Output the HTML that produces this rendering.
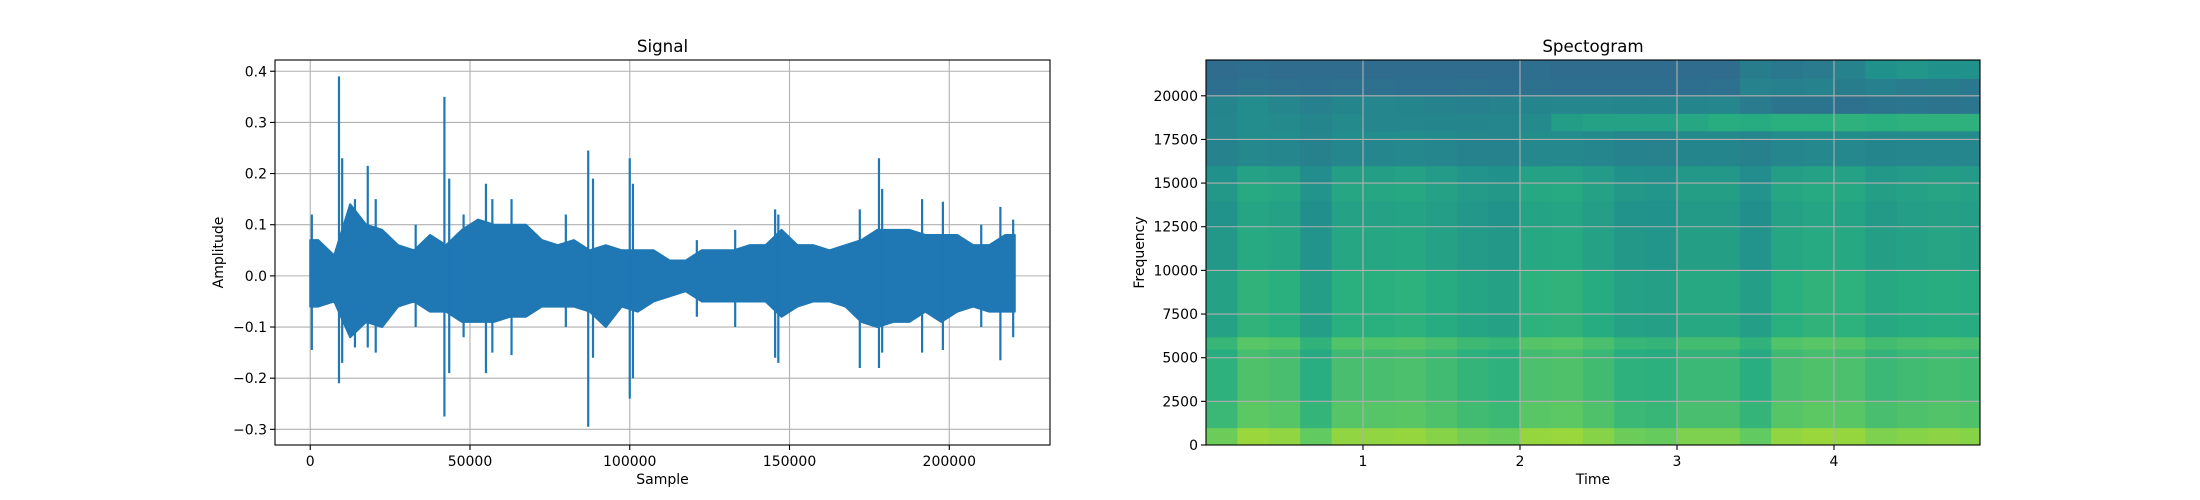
<!DOCTYPE html>
<html><head><meta charset="utf-8">
<style>
html,body{margin:0;padding:0;background:#fff;}
svg{display:block;font-family:"DejaVu Sans","Liberation Sans",sans-serif;}
</style></head>
<body>
<svg id="fig" width="2200" height="500" viewBox="0 0 2200 500" xmlns="http://www.w3.org/2000/svg"></svg>
<script>
// ---------- Signal data ----------
const sigBinSize = 5000;
const sigUpper = [0.07,0.04,0.14,0.10,0.09,0.06,0.05,0.08,0.06,0.09,0.11,0.10,0.10,0.10,0.07,0.06,0.07,0.05,0.06,0.05,0.05,0.05,0.03,0.03,0.05,0.05,0.05,0.06,0.06,0.09,0.06,0.06,0.05,0.06,0.07,0.09,0.09,0.09,0.08,0.08,0.08,0.06,0.06,0.08];
const sigLower = [-0.06,-0.05,-0.12,-0.09,-0.10,-0.06,-0.05,-0.07,-0.07,-0.09,-0.09,-0.09,-0.08,-0.08,-0.06,-0.06,-0.06,-0.07,-0.10,-0.06,-0.07,-0.05,-0.04,-0.03,-0.05,-0.05,-0.05,-0.05,-0.05,-0.08,-0.06,-0.05,-0.05,-0.06,-0.09,-0.10,-0.09,-0.09,-0.07,-0.09,-0.07,-0.06,-0.07,-0.07];
const spikeSamples = [500,9000,10000,14000,18000,20500,33000,42000,43500,48000,55000,57000,63000,80000,87000,88500,100000,101000,121000,133000,145500,146500,172000,178000,179000,191500,198000,210000,216000,220000];
const spikeMax = [0.12,0.39,0.23,0.15,0.215,0.15,0.10,0.35,0.19,0.12,0.18,0.15,0.15,0.12,0.245,0.19,0.23,0.18,0.07,0.09,0.13,0.12,0.13,0.23,0.17,0.15,0.145,0.10,0.135,0.11];
const spikeMin = [-0.145,-0.21,-0.17,-0.14,-0.14,-0.15,-0.10,-0.275,-0.19,-0.12,-0.19,-0.15,-0.155,-0.10,-0.295,-0.16,-0.24,-0.20,-0.08,-0.10,-0.16,-0.17,-0.18,-0.18,-0.15,-0.15,-0.145,-0.10,-0.165,-0.12];
const sigXTicks = [0,50000,100000,150000,200000];
const sigYTicks = [-0.3,-0.2,-0.1,0.0,0.1,0.2,0.3,0.4];

// ---------- Spectrogram data ----------
const specColWidth = 0.2;
const timeLoudness = [0.4,0.9,0.8,0.3,0.8,0.8,0.85,0.7,0.5,0.4,0.85,0.9,0.7,0.4,0.35,0.6,0.6,0.3,0.8,0.9,0.85,0.6,0.7,0.75,0.7];
const bandEdges = [0,1000,2500,5000,5500,6200,10000,12500,14000,15000,16000,17500,18000,19000,20000,21000,22050];
const bandLevel = [0.80,0.70,0.67,0.65,0.69,0.60,0.56,0.54,0.56,0.53,0.45,0.47,null,null,null,null];
const band18k = [0.46,0.48,0.47,0.45,0.47,0.46,0.46,0.45,0.45,0.46,0.47,0.55,0.57,0.57,0.57,0.59,0.62,0.61,0.63,0.63,0.64,0.63,0.64,0.64,0.64];
const band19k = [0.45,0.48,0.46,0.43,0.45,0.46,0.45,0.44,0.43,0.44,0.45,0.46,0.46,0.45,0.45,0.45,0.46,0.41,0.38,0.38,0.37,0.38,0.39,0.38,0.39];
const band20k = [0.36,0.38,0.37,0.36,0.37,0.37,0.36,0.36,0.37,0.36,0.37,0.36,0.36,0.36,0.36,0.36,0.37,0.44,0.43,0.44,0.42,0.43,0.41,0.42,0.40];
const band21k = [0.35,0.36,0.35,0.35,0.35,0.35,0.35,0.35,0.35,0.35,0.36,0.35,0.35,0.35,0.35,0.35,0.35,0.42,0.40,0.41,0.44,0.50,0.52,0.50,0.50];
const specXTicks = [1,2,3,4];
const specYTicks = [0,2500,5000,7500,10000,12500,15000,17500,20000];

const NS = "http://www.w3.org/2000/svg";
const svg = document.getElementById('fig');
function el(tag, attrs, parent){ const e=document.createElementNS(NS,tag); for(const k in attrs) e.setAttribute(k,attrs[k]); (parent||svg).appendChild(e); return e; }
function txt(s, attrs, parent){ const e=el('text',attrs,parent); e.textContent=s; return e; }
function fmtMinus(v,d){ const s=Math.abs(v).toFixed(d); return (v<0?'\u2212':'')+s; }

const viridis = [[68,1,84],[71,45,123],[59,82,139],[44,114,142],[33,145,140],[40,174,128],[94,201,98],[173,220,48],[253,231,37]];
function cmap(v){ v=Math.max(0,Math.min(1,v)); const p=v*8, i=Math.min(7,Math.floor(p)), f=p-i; const a=viridis[i], b=viridis[i+1];
  return 'rgb('+a.map((c,k)=>Math.round(c+(b[k]-c)*f)).join(',')+')'; }

// ===== Axes 1: Signal =====
const A1 = {l:275, r:1050, t:60, b:445};
const sxMin=-11025, sxMax=231525, syMin=-0.3306, syMax=0.422;
const sx = s => A1.l + (s-sxMin)/(sxMax-sxMin)*(A1.r-A1.l);
const sy = a => A1.b - (a-syMin)/(syMax-syMin)*(A1.b-A1.t);

const g1 = el('g',{});


sigXTicks.forEach(v=>{ const l=el('line',{x1:sx(v),x2:sx(v),y1:A1.t,y2:A1.b,stroke:'#b0b0b0','stroke-width':1.1},g1);
    });
sigYTicks.forEach(v=>{ const l=el('line',{x1:A1.l,x2:A1.r,y1:sy(v),y2:sy(v),stroke:'#b0b0b0','stroke-width':1.1},g1);
    });
// waveform bulk (envelope through bin centres)
const nb = sigUpper.length;
const centre = i => Math.min(220500, i*sigBinSize + sigBinSize/2);
let up=[sx(0)+','+sy(sigUpper[0])], lo=[];
for(let i=0;i<nb;i++) up.push(sx(centre(i))+','+sy(sigUpper[i]));
up.push(sx(220500)+','+sy(sigUpper[nb-1]));
lo.push(sx(220500)+','+sy(sigLower[nb-1]));
for(let i=nb-1;i>=0;i--) lo.push(sx(centre(i))+','+sy(sigLower[i]));
lo.push(sx(0)+','+sy(sigLower[0]));
const wave = el('polygon',{points:up.concat(lo).join(' '),fill:'#1f77b4',stroke:'#1f77b4','stroke-width':2,'stroke-linejoin':'round'},g1);


spikeSamples.forEach((s,i)=>{
  const l=el('line',{x1:sx(s),x2:sx(s),y1:sy(spikeMax[i]),y2:sy(spikeMin[i]),stroke:'#1f77b4','stroke-width':2.2},g1);
  
  
});
const f1=el('rect',{x:A1.l,y:A1.t,width:A1.r-A1.l,height:A1.b-A1.t,fill:'none',stroke:'#000','stroke-width':1.1},g1);
 
sigXTicks.forEach(v=>{ el('line',{x1:sx(v),x2:sx(v),y1:A1.b,y2:A1.b+5,stroke:'#000','stroke-width':1.1},g1);
  const t=txt(String(v),{x:sx(v),y:A1.b+21,'font-size':14,'text-anchor':'middle',fill:'#000'},g1);
    });
sigYTicks.forEach(v=>{ el('line',{x1:A1.l-5,x2:A1.l,y1:sy(v),y2:sy(v),stroke:'#000','stroke-width':1.1},g1);
  const t=txt(fmtMinus(v,1),{x:A1.l-8,y:sy(v)+5,'font-size':14,'text-anchor':'end',fill:'#000'},g1);
    });
let t1=txt('Signal',{x:(A1.l+A1.r)/2,y:52,'font-size':16.7,'text-anchor':'middle'},g1);
 
t1=txt('Sample',{x:(A1.l+A1.r)/2,y:484,'font-size':14,'text-anchor':'middle'},g1);
 
t1=txt('Amplitude',{x:0,y:0,'font-size':14,'text-anchor':'middle',transform:'translate(223,'+((A1.t+A1.b)/2)+') rotate(-90)'},g1);
 

// ===== Axes 2: Spectrogram =====
const A2 = {l:1206, r:1980, t:60, b:445};
const txMin=0, txMax=4.93, fMax=22050;
const tx = t => A2.l + (t-txMin)/(txMax-txMin)*(A2.r-A2.l);
const fy = f => A2.b - f/fMax*(A2.b-A2.t);
const g2 = el('g',{});


const clip = el('clipPath',{id:'specclip'},g2);
el('rect',{x:A2.l,y:A2.t,width:A2.r-A2.l,height:A2.b-A2.t},clip);
const cells = el('g',{'clip-path':'url(#specclip)'},g2);


for(let c=0;c<timeLoudness.length;c++){
  const t0=c*specColWidth, t1c=(c+1)*specColWidth;
  for(let b=0;b<bandEdges.length-1;b++){
    let v;
    if(b===12) v=band18k[c];
    else if(b===13) v=band19k[c];
    else if(b===14) v=band20k[c];
    else if(b===15) v=band21k[c];
    else v=bandLevel[b] + (b<10 ? 0.15 : 0.05)*(timeLoudness[c]-0.6);
    const r=el('rect',{x:tx(t0),y:fy(bandEdges[b+1]),width:tx(t1c)-tx(t0)+0.6,height:fy(bandEdges[b])-fy(bandEdges[b+1])+0.6,fill:cmap(v)},cells);
    
    
  }
}
specXTicks.forEach(v=>{ const l=el('line',{x1:tx(v),x2:tx(v),y1:A2.t,y2:A2.b,stroke:'#b0b0b0','stroke-width':1.1},g2);
    });
specYTicks.forEach(v=>{ const l=el('line',{x1:A2.l,x2:A2.r,y1:fy(v),y2:fy(v),stroke:'#b0b0b0','stroke-width':1.1},g2);
    });
const f2=el('rect',{x:A2.l,y:A2.t,width:A2.r-A2.l,height:A2.b-A2.t,fill:'none',stroke:'#000','stroke-width':1.1},g2);
 
specXTicks.forEach(v=>{ el('line',{x1:tx(v),x2:tx(v),y1:A2.b,y2:A2.b+5,stroke:'#000','stroke-width':1.1},g2);
  const t=txt(String(v),{x:tx(v),y:A2.b+21,'font-size':14,'text-anchor':'middle'},g2);
    });
specYTicks.forEach(v=>{ el('line',{x1:A2.l-5,x2:A2.l,y1:fy(v),y2:fy(v),stroke:'#000','stroke-width':1.1},g2);
  const t=txt(String(v),{x:A2.l-8,y:fy(v)+5,'font-size':14,'text-anchor':'end'},g2);
    });
let t2=txt('Spectogram',{x:(A2.l+A2.r)/2,y:52,'font-size':16.7,'text-anchor':'middle'},g2);
 
t2=txt('Time',{x:(A2.l+A2.r)/2,y:484,'font-size':14,'text-anchor':'middle'},g2);
 
t2=txt('Frequency',{x:0,y:0,'font-size':14,'text-anchor':'middle',transform:'translate(1144,'+((A2.t+A2.b)/2)+') rotate(-90)'},g2);
 
</script>
</body></html>
